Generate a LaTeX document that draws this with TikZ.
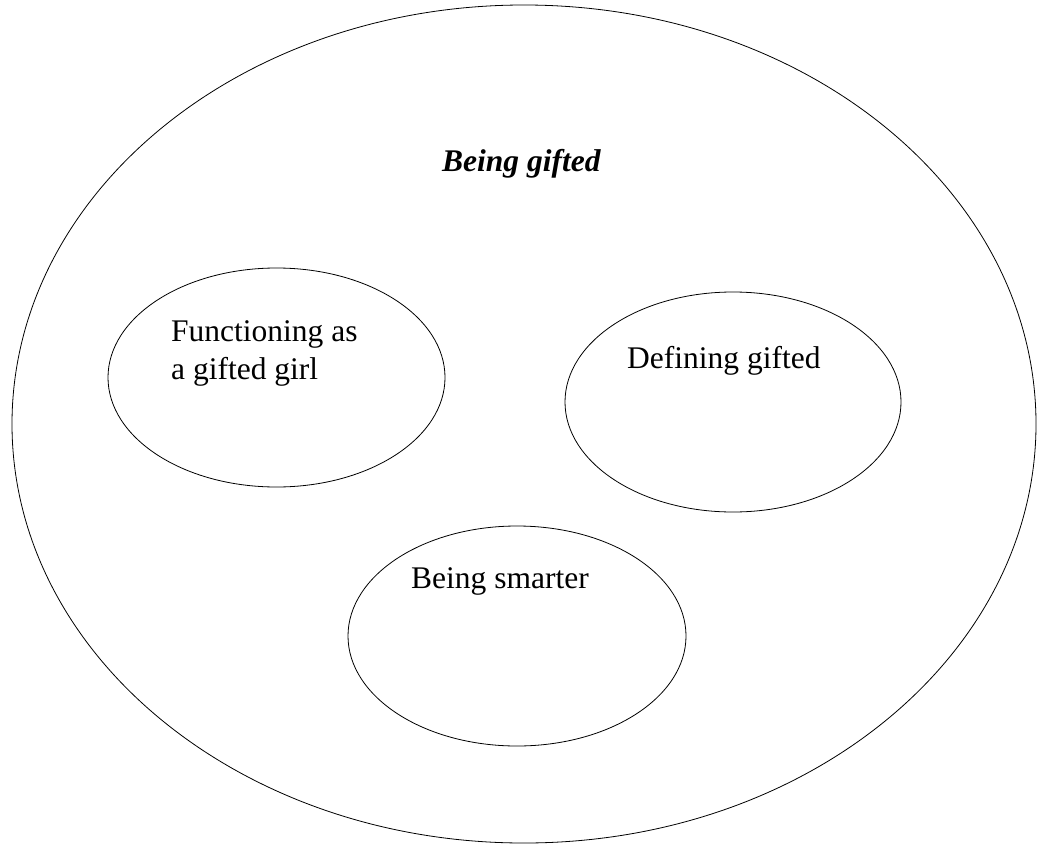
\documentclass[tikz,border=0pt]{standalone}
\usepackage{fontspec}
\setmainfont{Liberation Serif}
\usetikzlibrary{shapes.geometric}
\begin{document}
\begin{tikzpicture}[x=1pt,y=-1pt,
  ell/.style={line width=0.8pt},
  lbl/.style={anchor=base west,inner sep=0pt,font=\fontsize{31.5}{38}\selectfont}]
\useasboundingbox (0,0) rectangle (1048,848);
\draw[ell] (524,424) ellipse [x radius=512, y radius=419];
\draw[ell] (276.5,377.5) ellipse [x radius=168.5, y radius=109.5];
\draw[ell] (733,402) ellipse [x radius=168, y radius=110];
\draw[ell] (517,636) ellipse [x radius=169, y radius=110];
\node[lbl,font=\fontsize{31.5}{38}\selectfont\bfseries\itshape] (title) at (442,171) {Being gifted};
\node[lbl] (f1) at (171,341) {Functioning as};
\node[lbl] (f2) at (171,379) {a gifted girl};
\node[lbl] (d) at (627,368) {Defining gifted};
\node[lbl] (s) at (411,588) {Being smarter};
\end{tikzpicture}
\end{document}
